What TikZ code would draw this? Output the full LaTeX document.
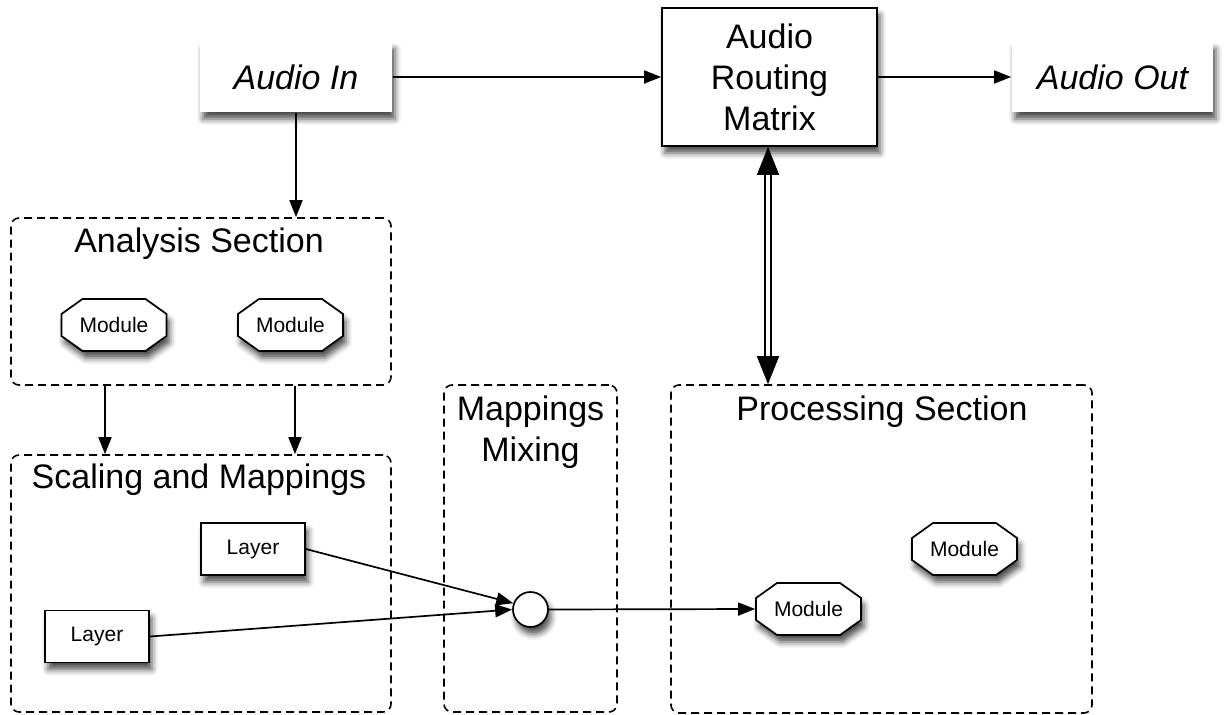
\documentclass[tikz,border=0pt]{standalone}
\usepackage{fontspec}
\setmainfont{Liberation Sans}
\usetikzlibrary{arrows.meta,shadows.blur}

% Octagonal module: outline (105 x 52, chamfered corners) then its label node
\newcommand\modulenode[3]{%
  \begin{scope}
  \filldraw[octa]
    (#2-31.5,#3-26) -- (#2+31.5,#3-26) -- (#2+52.5,#3-11) -- (#2+52.5,#3+11) --
    (#2+31.5,#3+26) -- (#2-31.5,#3+26) -- (#2-52.5,#3+11) -- (#2-52.5,#3-11) -- cycle;
  \end{scope}
  \node[modslot] (#1) at (#2,#3) {Module};}

\begin{document}
\begin{tikzpicture}[x=1pt,y=-1pt,line width=1.7pt,
  tip/.style={-{Triangle[length=17pt,width=13pt]}},
  softshadow/.style={blur shadow={shadow xshift=3pt,shadow yshift=-7pt,
      shadow blur radius=6pt,shadow opacity=70}},
  bigtext/.style={font=\fontsize{34}{41}\selectfont},
  smalltext/.style={font=\fontsize{21}{25}\selectfont},
  iobox/.style={fill=white,softshadow,inner sep=0pt,
      font=\fontsize{34}{41}\selectfont\itshape,minimum height=70pt},
  matrixbox/.style={draw,fill=white,softshadow,inner sep=0pt,bigtext,
      align=center,minimum width=215pt,minimum height=138pt},
  section/.style={draw,dash pattern=on 8pt off 5pt,rounded corners=8pt,
      line width=1.6pt,inner sep=0pt},
  sectitle/.style={bigtext,inner sep=0pt,anchor=base},
  layerbox/.style={draw,fill=white,softshadow,smalltext,inner sep=0pt,
      minimum width=104pt,minimum height=52pt},
  modslot/.style={smalltext,inner sep=0pt,minimum width=105pt,minimum height=52pt},
  octa/.style={draw,fill=white,line width=1.7pt,softshadow},
  mixer/.style={circle,draw,fill=white,softshadow,inner sep=0pt,minimum size=35pt},
  dblarrow/.style={double,line width=1.5pt,double distance=4.5pt,
      {Triangle[length=28pt,width=22pt]}-{Triangle[length=28pt,width=22pt]}}]

\useasboundingbox (0,0) rectangle (1224,715);

% top row
\node[iobox,minimum width=192pt] (ain) at (296,77) {Audio In};
\node[matrixbox] (arm) at (769.5,77) {Audio\\Routing\\Matrix};
\node[iobox,minimum width=201pt] (aout) at (1112.5,77) {Audio Out};

% dashed sections
\node[section,minimum width=380pt,minimum height=167pt] (ana) at (201,301.5) {};
\node[section,minimum width=380pt,minimum height=257pt] (scl) at (201,583.5) {};
\node[section,minimum width=173pt,minimum height=327pt] (mix) at (530.5,548.5) {};
\node[section,minimum width=421pt,minimum height=328pt] (proc) at (881.5,549) {};

\node[sectitle] (anatitle) at (199,252) {Analysis Section};
\node[sectitle] (scltitle) at (199,488) {Scaling and Mappings};
\node[bigtext,inner sep=0pt,anchor=north,align=center] (mixtitle) at (530.5,395.5) {Mappings\\Mixing};
\node[sectitle] (proctitle) at (882,420) {Processing Section};

% modules
\modulenode{am1}{114}{325}
\modulenode{am2}{290.5}{325}
\modulenode{pm1}{808.5}{609}
\modulenode{pm2}{964.5}{549}

% layers and mixing point
\node[layerbox] (l1) at (253,549) {Layer};
\node[layerbox] (l2) at (97,636.5) {Layer};
\node[mixer] (mc) at (530.5,609.5) {};

% connectors
\draw[tip] (ain.east) -- (arm.west);
\draw[tip] (arm.east) -- (aout.west);
\draw[tip] (ain.south) -- (ain.south |- ana.north);
\draw[tip] ([xshift=-96pt]ana.south) -- ([xshift=-96pt]scl.north);
\draw[tip] ([xshift=94pt]ana.south) -- ([xshift=94pt]scl.north);
\draw[dblarrow] ([xshift=-1.5pt]arm.south) -- ([xshift=-1.5pt]arm.south |- proc.north);
\draw[tip] (l1.east) -- (mc.160);
\draw[tip] (l2.east) -- (mc.west);
\draw[tip] (mc.east) -- (pm1.west);
\end{tikzpicture}
\end{document}
